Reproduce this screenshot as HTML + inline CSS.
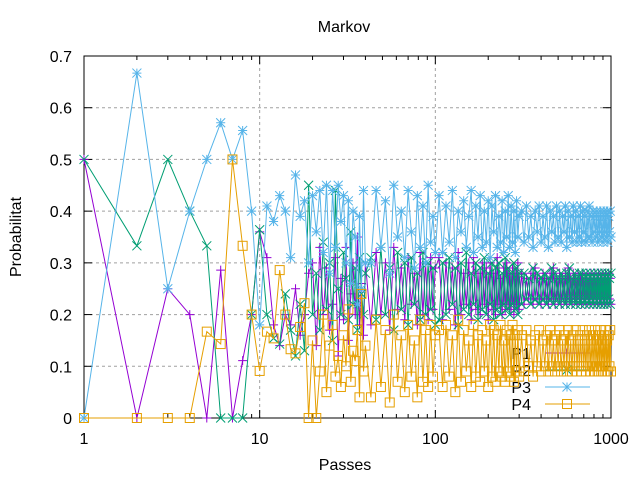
<!DOCTYPE html>
<html><head><meta charset="utf-8">
<style>
html,body{margin:0;padding:0;background:#fff;}
svg text{font-family:"Liberation Sans",sans-serif;font-size:16px;fill:#000;}
</style></head>
<body>
<svg id="chart" width="640" height="480" xmlns="http://www.w3.org/2000/svg">
<rect x="0" y="0" width="640" height="480" fill="#fff"/>
<g id="grid"></g>
<g id="axes"></g>
<g id="legend-under"></g>
<g id="series"></g>
<text x="344" y="32" text-anchor="middle">Markov</text>
<text x="345" y="470" text-anchor="middle">Passes</text>
<text transform="translate(21,237) rotate(-90)" text-anchor="middle">Probabilitat</text>
</svg>
<script>
const yTicks=[0,0.1,0.2,0.3,0.4,0.5,0.6,0.7];
const yTickLabels=["0","0.1","0.2","0.3","0.4","0.5","0.6","0.7"];
const xTicks=[1,10,100,1000];
const xTickLabels=["1","10","100","1000"];
const seriesNames=["P1","P2","P3","P4"];
const p3=[0,.667,.25,.4,.5,.571,.5,.556,.4,.18,.41,.38,.43,.40,.31,.47,.39,.42,.30,.43,.36,.44,.32,.45,.28,.44,.33,.45,.38,.43,.30,.42,.26,.40,.35,.22,.39,.25,.44,.30,
.30,.44,.33,.42,.28,.45,.35,.40,.31,.44,.36,.29,.43,.33,.41,.30,.45,.34,.39,.32,
.43,.32,.41,.34,.44,.31,.40,.36,.42,.33,.39,.44,.32,.41,.35,.43,.33,.40,.34,.42,.31,.41,.36,.43,.33,.39,.34,.42,.32,.40,.35,.43,.33,.41,.34,.40,.32,.42,.35,.39,
.40,.34,.41,.35,.39,.33,.40,.36,.41,.34,.39,.35,.41,.33,.40,.36,.39,.34,.41,.35,.40,.34,.39,.36,.41,.33,.40,.35,.39,.34,.41,.36,.40,.34,.39,.35,.41,.34,.40,.36,.39,.34,.40,.35,.41,.35,.39,.34,.40,.36,.39,.35,.40,.34,.39,.36,.40,.35,.39,.34,.40,.36,.39,.35,.40,.34,.39,.36,.40,.35];
const p1=[.5,0,.25,.2,0,.286,0,.111,.2,.36,.31,.18,.14,.2,.18,.25,.16,.2,.28,.3,.14,.33,.2,.29,.17,.22,.31,.12,.27,.19,.33,.15,.24,.3,.2,.35,.18,.26,.16,.3,
.18,.32,.2,.3,.17,.33,.21,.29,.19,.31,.22,.28,.18,.32,.2,.3,.19,.31,.21,.29,
.31,.19,.3,.21,.29,.18,.32,.2,.28,.22,.3,.19,.31,.21,.28,.2,.3,.22,.29,.19,.3,.21,.28,.2,.31,.22,.27,.2,.29,.21,.3,.22,.28,.21,.29,.2,.28,.22,.3,.21,
.28,.22,.27,.23,.28,.22,.29,.23,.27,.22,.28,.23,.27,.22,.28,.23,.29,.22,.27,.23,.28,.22,.27,.23,.28,.22,.29,.23,.27,.22,.28,.23,.27,.22,.28,.23,.27,.22,.28,.23,.27,.22,.28,.23,.27,.22,.28,.23,.27,.22,.28,.23,.27,.22,.28,.23,.27,.22,.28,.23,.27,.22,.28,.23,.27,.22,.28,.23,.27,.22];
const p2=[.5,.333,.5,.4,.333,0,0,0,.2,.364,.2,.154,.143,.24,.17,.12,.22,.13,.45,.2,.28,.17,.34,.21,.3,.15,.44,.25,.2,.32,.27,.19,.36,.22,.29,.17,.31,.24,.2,.28,
.31,.19,.33,.2,.29,.17,.32,.21,.3,.18,.31,.22,.28,.19,.32,.2,.3,.21,.29,.18,
.19,.3,.2,.31,.22,.29,.18,.3,.21,.32,.2,.28,.22,.3,.19,.29,.21,.31,.2,.28,.22,.3,.19,.29,.21,.3,.2,.28,.22,.31,.21,.29,.2,.28,.22,.3,.21,.29,.2,.28,
.22,.28,.23,.27,.22,.29,.23,.28,.22,.27,.23,.28,.22,.27,.23,.29,.22,.28,.23,.27,.22,.28,.23,.27,.22,.28,.23,.29,.22,.27,.23,.28,.22,.27,.23,.28,.22,.28,.23,.27,.22,.28,.23,.27,.22,.28,.23,.27,.22,.28,.23,.27,.22,.28,.23,.27,.22,.28,.23,.27,.22,.28,.23,.27,.22,.28,.23,.27,.22,.28];
const p4=[0,0,0,0,.167,.143,.5,.333,.2,.091,.167,.154,.286,.2,.133,.125,.176,.222,0,.15,0,.09,.2,.05,.14,.18,.08,.12,.06,.16,.1,.21,.07,.13,.11,.17,.04,.24,.09,.14,
.04,.19,.06,.17,.03,.2,.07,.16,.05,.18,.08,.15,.04,.19,.07,.17,.06,.18,.08,.16,
.17,.06,.18,.08,.16,.05,.19,.07,.17,.09,.15,.06,.18,.08,.16,.07,.17,.09,.15,.06,.18,.08,.17,.07,.16,.09,.18,.08,.15,.07,.17,.09,.16,.08,.18,.07,.16,.09,.17,.08,
.16,.09,.17,.1,.15,.08,.16,.1,.17,.09,.15,.1,.16,.09,.17,.1,.15,.09,.16,.1,.17,.09,.15,.1,.16,.09,.17,.1,.15,.09,.16,.1,.17,.09,.15,.1,.16,.09,.17,.1,.15,.09,.16,.1,.17,.09,.15,.1,.16,.09,.17,.1,.15,.09,.16,.1,.17,.09,.15,.1,.16,.09,.17,.1,.15,.09,.16,.1,.17,.09];
// x positions (passes): 1..40, 43..100 step 3, 105..300 step 5, 310..1000 step 10
const xs=[];
for(let i=1;i<=40;i++)xs.push(i);
for(let i=43;i<=100;i+=3)xs.push(i);
for(let i=105;i<=300;i+=5)xs.push(i);
for(let i=310;i<=1000;i+=10)xs.push(i);

const L=84,R=611,T=56,B=418;
const X=v=>L+(R-L)*Math.log10(v)/3;
const Y=v=>B-(B-T)*v/0.7;
const NS="http://www.w3.org/2000/svg";
function mk(tag,attrs,parent){const e=document.createElementNS(NS,tag);for(const k in attrs)e.setAttribute(k,attrs[k]);parent.appendChild(e);return e;}
const grid=document.getElementById('grid'),axes=document.getElementById('axes'),ser=document.getElementById('series'),legUnder=document.getElementById('legend-under');

yTicks.forEach((t,i)=>{
  if(t>0&&t<0.7){const g=mk('line',{x1:L,x2:R,y1:Y(t),y2:Y(t),stroke:'#a0a0a0','stroke-dasharray':'3,3','stroke-width':1},grid);
  
  }
  const tk=mk('line',{x1:L,x2:L+8,y1:Y(t),y2:Y(t),stroke:'#000'},axes);
  
  
  const tk2=mk('line',{x1:R,x2:R-8,y1:Y(t),y2:Y(t),stroke:'#000'},axes);
  
  
  const tx=mk('text',{x:L-12,y:Y(t)+6,'text-anchor':'end'},axes);tx.textContent=yTickLabels[i];
  
  
});
xTicks.forEach((t,i)=>{
  if(t>1&&t<1000){const g=mk('line',{x1:X(t),x2:X(t),y1:T,y2:B,stroke:'#a0a0a0','stroke-dasharray':'3,3','stroke-width':1},grid);
  
  }
  const tk=mk('line',{x1:X(t),x2:X(t),y1:B,y2:B-8,stroke:'#000'},axes);
  
  
  const tk2=mk('line',{x1:X(t),x2:X(t),y1:T,y2:T+8,stroke:'#000'},axes);
  
  
  const tx=mk('text',{x:X(t),y:B+26,'text-anchor':'middle'},axes);tx.textContent=xTickLabels[i];
  
  
  if(t<1000){for(let m=2;m<=9;m++){const v=t*m;
    const a=mk('line',{x1:X(v),x2:X(v),y1:B,y2:B-4,stroke:'#000'},axes);
    
    
    const b=mk('line',{x1:X(v),x2:X(v),y1:T,y2:T+4,stroke:'#000'},axes);
    
    }}
});
const frame=mk('rect',{x:L,y:T,width:R-L,height:B-T,fill:'none',stroke:'#000','stroke-width':1},axes);



function marker(type,x,y,c,g){
  const s=4.5;let d='';
  if(type==='plus')d=`M${x-s} ${y}H${x+s}M${x} ${y-s}V${y+s}`;
  else if(type==='cross')d=`M${x-s} ${y-s}L${x+s} ${y+s}M${x-s} ${y+s}L${x+s} ${y-s}`;
  else if(type==='star')d=`M${x-s} ${y}H${x+s}M${x} ${y-s}V${y+s}M${x-s} ${y-s}L${x+s} ${y+s}M${x-s} ${y+s}L${x+s} ${y-s}`;
  if(type==='square'){const r=mk('rect',{x:x-s,y:y-s,width:2*s,height:2*s,fill:'none',stroke:c,'stroke-width':1},g);
    
    }
  else{const p=mk('path',{d:d,stroke:c,'stroke-width':1,fill:'none'},g);
    
    }
}
const defs=[[p1,'#9400d3','plus',353],[p2,'#009e73','cross',370],[p3,'#56b4e9','star',387],[p4,'#e69f00','square',404]];
defs.forEach((d,si)=>{
  const [vals,c,type,ly]=d;
  const g=mk('g',{},ser);
  
  
  const lg=si<2?legUnder:g;
  const lt=mk('text',{x:531,y:ly+6,'text-anchor':'end'},lg);lt.textContent=seriesNames[si];
  
  
  const ll=mk('line',{x1:545,x2:590,y1:ly,y2:ly,stroke:c},lg);
  
  
  marker(type,567,ly,c,lg);
  let pts=vals.map((v,i)=>X(xs[i]).toFixed(1)+','+Y(v).toFixed(1)).join(' ');
  const pl=mk('polyline',{points:pts,fill:'none',stroke:c,'stroke-width':1},g);
  
  
  vals.forEach((v,i)=>marker(type,X(xs[i]),Y(v),c,g));
});
</script>
</body></html>
